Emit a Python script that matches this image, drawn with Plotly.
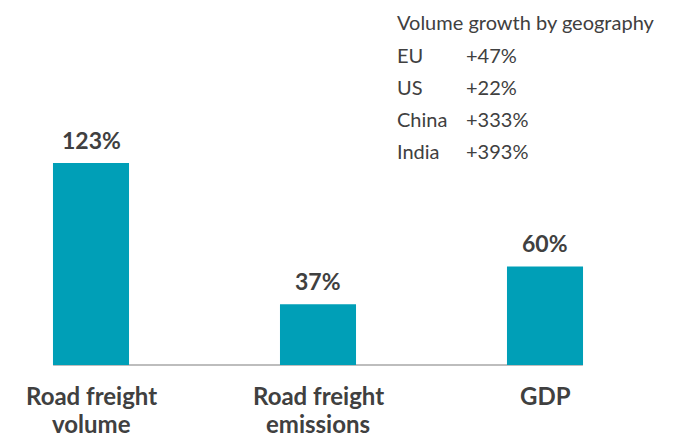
import plotly.graph_objects as go

# Bar data
categories = ["Road freight<br>volume", "Road freight<br>emissions", "GDP"]
growth = [123, 37, 60]
growth_labels = ["123%", "37%", "60%"]

# Side table: volume growth by geography
table_title = "Volume growth by geography"
regions = ["EU", "US", "China", "India"]
region_growth = ["+47%", "+22%", "+333%", "+393%"]

BAR = "#009FB7"
INK = "#404040"
FONT = "Lato"

# page body has an 8px margin, so the figure is drawn 8px smaller
W, H = 665, 430
PX = 227        # pixels between bar centres
PY = 1.642      # pixels per percentage point
BASE = 357      # baseline, pixels from top of figure

x = list(range(len(categories)))

fig = go.Figure()

fig.add_trace(
    go.Bar(
        x=x,
        y=growth,
        width=0.335,
        marker=dict(color=BAR, line=dict(width=0)),
        hoverinfo="skip",
    )
)

# value labels above the bars
for i, (v, lab) in enumerate(zip(growth, growth_labels)):
    fig.add_annotation(
        x=i, y=v, xref="x", yref="y", text=f"<b>{lab}</b>",
        showarrow=False, yanchor="middle", yshift=23,
        font=dict(family=FONT, size=23, color=INK),
    )

# thin baseline under the bars
fig.add_shape(type="line", x0=-0.167, x1=2.167, y0=0, y1=0,
              line=dict(color="#BDBDBD", width=2), layer="below")

# category labels under the bars
for i, cat in enumerate(categories):
    for j, line in enumerate(cat.split("<br>")):
        fig.add_annotation(
            x=i, y=-18.5 - j * 17.1, xref="x", yref="y",
            text=f"<b>{line}</b>", showarrow=False,
            font=dict(family=FONT, size=24, color=INK),
            xanchor="center", yanchor="middle",
        )

# geography table in the top right
fig.add_annotation(
    x=387 / W, y=1 - 14 / H, xref="paper", yref="paper",
    text=table_title, showarrow=False, xanchor="left", yanchor="middle",
    font=dict(family=FONT, size=20, color=INK),
)
for k, (reg, val) in enumerate(zip(regions, region_growth)):
    yy = 1 - (47 + k * 32) / H
    fig.add_annotation(
        x=387 / W, y=yy, xref="paper", yref="paper", text=reg,
        showarrow=False, xanchor="left", yanchor="middle",
        font=dict(family=FONT, size=20, color=INK),
    )
    fig.add_annotation(
        x=456 / W, y=yy, xref="paper", yref="paper", text=val,
        showarrow=False, xanchor="left", yanchor="middle",
        font=dict(family=FONT, size=20, color=INK),
    )

fig.update_layout(
    width=W,
    height=H,
    margin=dict(l=0, r=0, t=0, b=0),
    paper_bgcolor="white",
    plot_bgcolor="white",
    showlegend=False,
    xaxis=dict(range=[-83 / PX, 2 + (W - 537) / PX], visible=False, fixedrange=True),
    yaxis=dict(range=[-(H - BASE) / PY, BASE / PY], visible=False, fixedrange=True),
)

fig.write_html("out.html")
